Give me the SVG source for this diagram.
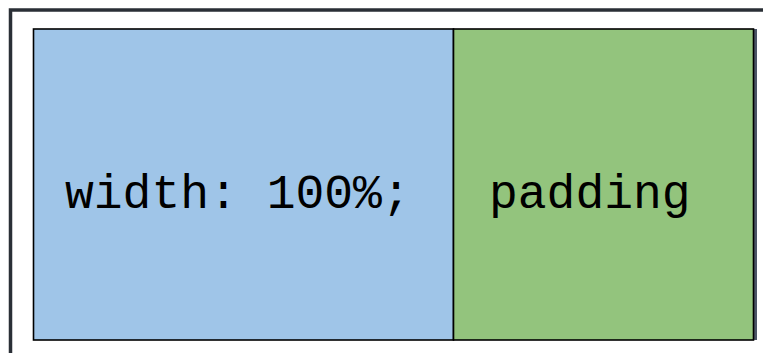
<svg xmlns="http://www.w3.org/2000/svg" width="763" height="353" viewBox="0 0 763 353">
<style>
.box{stroke:#000;stroke-width:1.6}
.lbl{font-family:"Liberation Mono","Courier New",monospace;font-size:48px;fill:#000}
</style>
<rect x="0" y="0" width="763" height="353" fill="#fff"/>
<rect id="frame" x="10.5" y="10" width="770" height="360" fill="none" stroke="#2a2f36" stroke-width="3.5"/>
<g id="content">
<rect class="box" x="33.5" y="29" width="420" height="311" fill="#9fc5e8"/>
<text class="lbl" x="65" y="208">width: 100%;</text>
</g>
<g id="padding">
<rect x="753.5" y="29" width="3.5" height="311" fill="#4b5566"/>
<rect class="box" x="453.5" y="29" width="300" height="311" fill="#93c47d"/>
<text class="lbl" x="489" y="208">padding</text>
</g>
<g id="connectors"></g>
</svg>
